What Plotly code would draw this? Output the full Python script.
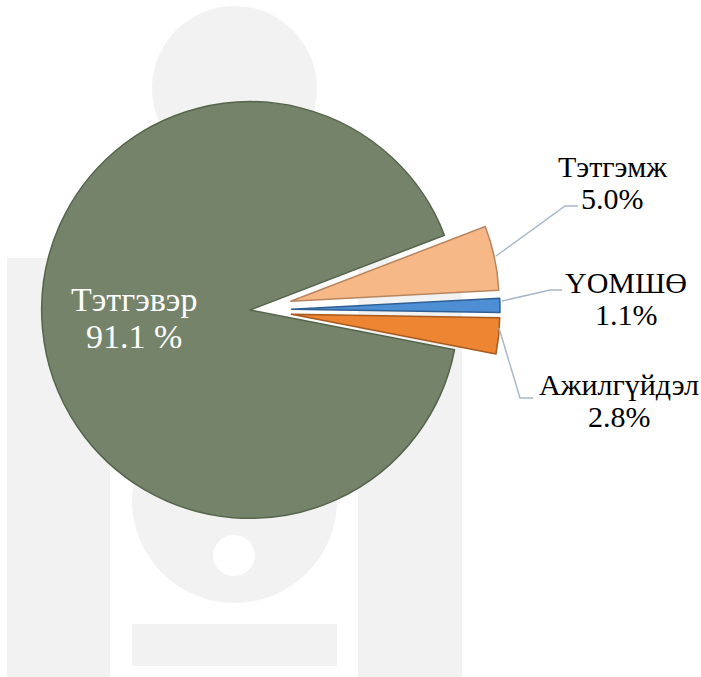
import plotly.graph_objects as go

# ---- data ----
labels = ["Тэтгэвэр", "Тэтгэмж", "ҮОМШӨ", "Ажилгүйдэл"]
values = [91.1, 5.0, 1.1, 2.8]
pct_suffix = [" %", "%", "%", "%"]

colors = ["#74836A", "#F7B887", "#4E8ED4", "#EE8532"]
edge_colors = ["#55654B", "#B9855E", "#2F5F92", "#A85A1E"]

W, H = 701, 677


def px(x):
    return x / W


def py(y):
    return 1 - y / H


fig = go.Figure()

fig.add_trace(go.Pie(
    labels=labels,
    values=values,
    sort=False,
    direction="clockwise",
    rotation=101,
    pull=[0, 0.2, 0.2, 0.2],
    marker=dict(colors=colors, line=dict(color=edge_colors, width=1.5)),
    textinfo="none",
    hoverinfo="label+percent",
    showlegend=False,
    domain=dict(x=[0, 500 / W], y=[py(560), py(60)]),
))

# ---- faint watermark in the background ----
wm = "#F2F2F2"
shapes = []


def rect(x0, y0, x1, y1, color=wm):
    shapes.append(dict(type="rect", xref="paper", yref="paper",
                       x0=px(x0), x1=px(x1), y0=py(y1), y1=py(y0),
                       fillcolor=color, line=dict(width=0), layer="below"))


def circ(x0, y0, x1, y1, color=wm):
    shapes.append(dict(type="circle", xref="paper", yref="paper",
                       x0=px(x0), x1=px(x1), y0=py(y1), y1=py(y0),
                       fillcolor=color, line=dict(width=0), layer="below"))


circ(152, 6, 317, 171)
rect(7, 258, 110, 677)
rect(358, 258, 462, 677)
circ(132, 398, 337, 603)
circ(213, 535, 255, 576, "white")
rect(132, 624, 337, 666)

# ---- leader lines ----
leader = "#A9B8CB"
lines = [
    [(496, 256), (565, 206), (578, 206)],
    [(502, 301), (550, 290), (562, 290)],
    [(499, 328), (520, 398), (533, 398)],
]
for pts in lines:
    path = "M " + " L ".join(f"{px(x):.5f},{py(y):.5f}" for x, y in pts)
    shapes.append(dict(type="path", xref="paper", yref="paper", path=path,
                       line=dict(color=leader, width=1.5)))

# ---- labels ----
font_family = "Liberation Serif"
label_pos = [  # (center x, name baseline, pct baseline, font size)
    (134, 311, 348, 34),
    (612, 176, 208, 30),
    (626, 292, 324, 30),
    (619, 394, 426, 30),
]
annotations = []
for i, (lab, val) in enumerate(zip(labels, values)):
    cx, b1, b2, fs = label_pos[i]
    col = "white" if i == 0 else "black"
    for txt, base in ((lab, b1), (f"{val:.1f}{pct_suffix[i]}", b2)):
        annotations.append(dict(
            x=px(cx), y=py(base - 0.33 * fs), xref="paper", yref="paper",
            text=txt, showarrow=False, xanchor="center", yanchor="middle",
            font=dict(family=font_family, size=fs, color=col)))

fig.update_layout(
    width=W, height=H,
    margin=dict(l=0, r=0, t=0, b=0),
    paper_bgcolor="white",
    plot_bgcolor="white",
    font=dict(family=font_family),
    shapes=shapes,
    annotations=annotations,
)

fig.write_html("out.html",
               config={"displayModeBar": False},
               post_script="document.body.style.margin='0';document.body.style.padding='0';")
